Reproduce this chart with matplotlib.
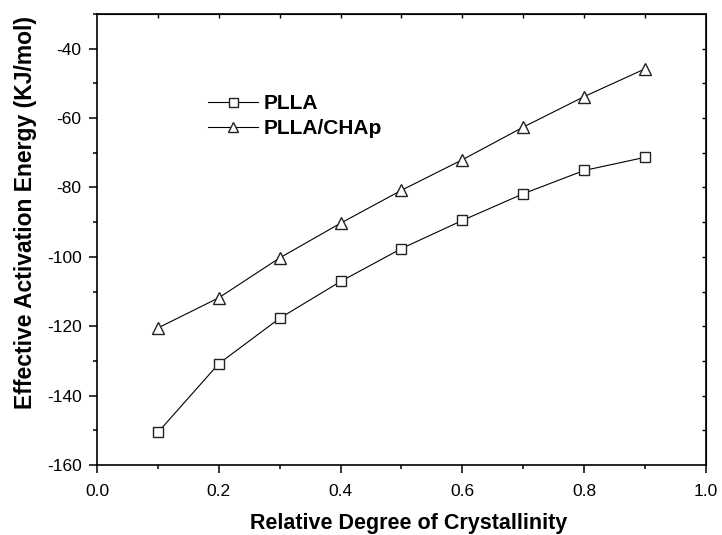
import matplotlib
matplotlib.use("Agg")
import matplotlib.pyplot as plt
from matplotlib.ticker import MultipleLocator

plt.rcParams['font.family'] = ['Liberation Sans', 'DejaVu Sans']

crystallinity = [0.1, 0.2, 0.3, 0.4, 0.5, 0.6, 0.7, 0.8, 0.9]
plla = [-150.6, -130.8, -117.7, -107.1, -97.6, -89.5, -81.8, -75.1, -71.3]
plla_chap = [-120.5, -111.8, -100.3, -90.3, -80.8, -72.0, -62.6, -53.8, -45.8]
series_labels = ["PLLA", "PLLA/CHAp"]
x_ticks = [0.0, 0.2, 0.4, 0.6, 0.8, 1.0]
x_ticklabels = ['0.0', '0.2', '0.4', '0.6', '0.8', '1.0']
y_ticks = [-160, -140, -120, -100, -80, -60, -40]
y_ticklabels = ['-160', '-140', '-120', '-100', '-80', '-60', '-40']

fig = plt.figure(figsize=(7.22, 5.35), dpi=100)
ax = fig.add_axes([0.1343, 0.1308, 0.8435, 0.843])

ax.plot(crystallinity, plla, color='black', lw=0.8, marker='s', ms=7.2,
        mfc='white', mec='#222222', mew=1.0, label=series_labels[0])
ax.plot(crystallinity, plla_chap, color='black', lw=0.8, marker='^', ms=8.5,
        mfc='white', mec='#222222', mew=1.0, label=series_labels[1])

ax.set_xlim(0.0, 1.0)
ax.set_ylim(-160, -30)
ax.set_xticks(x_ticks)
ax.set_xticklabels(x_ticklabels)
ax.set_yticks(y_ticks)
ax.set_yticklabels(y_ticklabels)
ax.xaxis.set_minor_locator(MultipleLocator(0.1))
ax.yaxis.set_minor_locator(MultipleLocator(10))

ax.tick_params(which='major', direction='out', length=6, width=1.1, labelsize=12.5)
ax.tick_params(which='minor', direction='out', length=3, width=1.1)
ax.tick_params(axis='x', which='major', pad=8)
ax.tick_params(axis='y', which='major', pad=5)
for s in ax.spines.values():
    s.set_linewidth(1.2)

# top and right inward ticks
top = ax.secondary_xaxis('top')
top.set_xticks([0.1, 0.2, 0.3, 0.4, 0.5, 0.6, 0.7, 0.8, 0.9])
top.tick_params(direction='in', length=3, width=1.0, labeltop=False)
right = ax.secondary_yaxis('right')
right.set_yticks([-150, -140, -130, -120, -110, -100, -90, -80, -70, -60, -50, -40])
right.tick_params(direction='in', length=3, width=1.0, labelright=False)

ax.set_xlabel('Relative Degree of Crystallinity', fontsize=15.5, fontweight='bold')
ax.set_ylabel('Effective Activation Energy (KJ/mol)', fontsize=16.5, fontweight='bold')
ax.xaxis.set_label_coords(0.512, -0.106)
ax.yaxis.set_label_coords(-0.0985, 0.56)

leg = ax.legend(loc='upper left', bbox_to_anchor=(0.182, 0.823), frameon=False,
                prop={'weight': 'bold', 'size': 15}, handlelength=2.4,
                handletextpad=0.3, labelspacing=0.3, borderaxespad=0, borderpad=0,
                markerscale=0.9)

fig.savefig('out.png', dpi=100)
